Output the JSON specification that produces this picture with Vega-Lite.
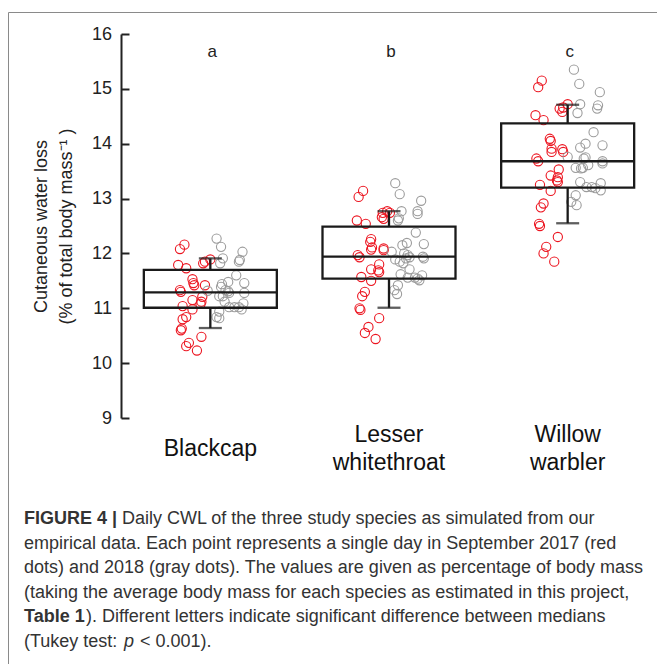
{
  "$schema": "https://vega.github.io/schema/vega-lite/v6.json",
  "width": 649,
  "height": 652,
  "autosize": {"type": "none"},
  "padding": {"left": 8, "top": 12, "right": 0, "bottom": 0},
  "background": "white",
  "config": {
    "font": "Liberation Sans",
    "view": {"stroke": "#8a8a8a", "strokeWidth": 1}
  },
  "datasets": {
    "pts": [
      {"species":"Blackcap","year":"2017","cwl":12.16,"jitter":-0.29},
      {"species":"Blackcap","year":"2017","cwl":12.08,"jitter":-0.34},
      {"species":"Blackcap","year":"2017","cwl":11.85,"jitter":-0.06},
      {"species":"Blackcap","year":"2017","cwl":11.82,"jitter":-0.08},
      {"species":"Blackcap","year":"2017","cwl":11.89,"jitter":0.0},
      {"species":"Blackcap","year":"2017","cwl":11.79,"jitter":-0.36},
      {"species":"Blackcap","year":"2017","cwl":11.73,"jitter":-0.27},
      {"species":"Blackcap","year":"2017","cwl":11.53,"jitter":-0.2},
      {"species":"Blackcap","year":"2017","cwl":11.46,"jitter":-0.19},
      {"species":"Blackcap","year":"2017","cwl":11.42,"jitter":-0.18},
      {"species":"Blackcap","year":"2017","cwl":11.42,"jitter":-0.06},
      {"species":"Blackcap","year":"2017","cwl":11.33,"jitter":-0.34},
      {"species":"Blackcap","year":"2017","cwl":11.3,"jitter":-0.33},
      {"species":"Blackcap","year":"2017","cwl":11.21,"jitter":-0.09},
      {"species":"Blackcap","year":"2017","cwl":11.12,"jitter":-0.1},
      {"species":"Blackcap","year":"2017","cwl":11.08,"jitter":-0.11},
      {"species":"Blackcap","year":"2017","cwl":11.15,"jitter":-0.2},
      {"species":"Blackcap","year":"2017","cwl":11.04,"jitter":-0.31},
      {"species":"Blackcap","year":"2017","cwl":10.98,"jitter":-0.2},
      {"species":"Blackcap","year":"2017","cwl":10.84,"jitter":-0.27},
      {"species":"Blackcap","year":"2017","cwl":10.8,"jitter":-0.31},
      {"species":"Blackcap","year":"2017","cwl":10.63,"jitter":-0.32},
      {"species":"Blackcap","year":"2017","cwl":10.6,"jitter":-0.33},
      {"species":"Blackcap","year":"2017","cwl":10.48,"jitter":-0.1},
      {"species":"Blackcap","year":"2017","cwl":10.37,"jitter":-0.24},
      {"species":"Blackcap","year":"2017","cwl":10.31,"jitter":-0.27},
      {"species":"Blackcap","year":"2017","cwl":10.23,"jitter":-0.15},
      {"species":"Blackcap","year":"2018","cwl":12.27,"jitter":0.07},
      {"species":"Blackcap","year":"2018","cwl":12.12,"jitter":0.12},
      {"species":"Blackcap","year":"2018","cwl":12.03,"jitter":0.36},
      {"species":"Blackcap","year":"2018","cwl":11.88,"jitter":0.33},
      {"species":"Blackcap","year":"2018","cwl":11.85,"jitter":0.32},
      {"species":"Blackcap","year":"2018","cwl":11.91,"jitter":0.14},
      {"species":"Blackcap","year":"2018","cwl":11.82,"jitter":0.11},
      {"species":"Blackcap","year":"2018","cwl":11.6,"jitter":0.29},
      {"species":"Blackcap","year":"2018","cwl":11.48,"jitter":0.2},
      {"species":"Blackcap","year":"2018","cwl":11.44,"jitter":0.13},
      {"species":"Blackcap","year":"2018","cwl":11.39,"jitter":0.12},
      {"species":"Blackcap","year":"2018","cwl":11.46,"jitter":0.38},
      {"species":"Blackcap","year":"2018","cwl":11.33,"jitter":0.17},
      {"species":"Blackcap","year":"2018","cwl":11.31,"jitter":0.2},
      {"species":"Blackcap","year":"2018","cwl":11.28,"jitter":0.21},
      {"species":"Blackcap","year":"2018","cwl":11.22,"jitter":0.1},
      {"species":"Blackcap","year":"2018","cwl":11.22,"jitter":0.14},
      {"species":"Blackcap","year":"2018","cwl":11.28,"jitter":0.38},
      {"species":"Blackcap","year":"2018","cwl":11.32,"jitter":-0.03},
      {"species":"Blackcap","year":"2018","cwl":11.12,"jitter":0.16},
      {"species":"Blackcap","year":"2018","cwl":11.02,"jitter":0.21},
      {"species":"Blackcap","year":"2018","cwl":11.02,"jitter":0.27},
      {"species":"Blackcap","year":"2018","cwl":11.02,"jitter":0.32},
      {"species":"Blackcap","year":"2018","cwl":10.98,"jitter":0.35},
      {"species":"Blackcap","year":"2018","cwl":11.09,"jitter":0.37},
      {"species":"Blackcap","year":"2018","cwl":10.94,"jitter":0.1},
      {"species":"Blackcap","year":"2018","cwl":10.84,"jitter":0.07},
      {"species":"Blackcap","year":"2018","cwl":10.82,"jitter":0.1},
      {"species":"Lesser whitethroat","year":"2017","cwl":13.14,"jitter":-0.29},
      {"species":"Lesser whitethroat","year":"2017","cwl":13.03,"jitter":-0.34},
      {"species":"Lesser whitethroat","year":"2017","cwl":12.74,"jitter":-0.07},
      {"species":"Lesser whitethroat","year":"2017","cwl":12.77,"jitter":-0.02},
      {"species":"Lesser whitethroat","year":"2017","cwl":12.74,"jitter":0.01},
      {"species":"Lesser whitethroat","year":"2017","cwl":12.66,"jitter":-0.08},
      {"species":"Lesser whitethroat","year":"2017","cwl":12.63,"jitter":-0.06},
      {"species":"Lesser whitethroat","year":"2017","cwl":12.6,"jitter":-0.36},
      {"species":"Lesser whitethroat","year":"2017","cwl":12.54,"jitter":-0.26},
      {"species":"Lesser whitethroat","year":"2017","cwl":12.26,"jitter":-0.2},
      {"species":"Lesser whitethroat","year":"2017","cwl":12.21,"jitter":-0.21},
      {"species":"Lesser whitethroat","year":"2017","cwl":12.11,"jitter":-0.19},
      {"species":"Lesser whitethroat","year":"2017","cwl":12.07,"jitter":-0.2},
      {"species":"Lesser whitethroat","year":"2017","cwl":12.09,"jitter":-0.06},
      {"species":"Lesser whitethroat","year":"2017","cwl":12.06,"jitter":-0.06},
      {"species":"Lesser whitethroat","year":"2017","cwl":11.97,"jitter":-0.35},
      {"species":"Lesser whitethroat","year":"2017","cwl":11.93,"jitter":-0.33},
      {"species":"Lesser whitethroat","year":"2017","cwl":11.8,"jitter":-0.11},
      {"species":"Lesser whitethroat","year":"2017","cwl":11.71,"jitter":-0.2},
      {"species":"Lesser whitethroat","year":"2017","cwl":11.69,"jitter":-0.12},
      {"species":"Lesser whitethroat","year":"2017","cwl":11.66,"jitter":-0.11},
      {"species":"Lesser whitethroat","year":"2017","cwl":11.57,"jitter":-0.31},
      {"species":"Lesser whitethroat","year":"2017","cwl":11.5,"jitter":-0.2},
      {"species":"Lesser whitethroat","year":"2017","cwl":11.3,"jitter":-0.27},
      {"species":"Lesser whitethroat","year":"2017","cwl":11.22,"jitter":-0.3},
      {"species":"Lesser whitethroat","year":"2017","cwl":11.0,"jitter":-0.33},
      {"species":"Lesser whitethroat","year":"2017","cwl":10.97,"jitter":-0.32},
      {"species":"Lesser whitethroat","year":"2017","cwl":10.82,"jitter":-0.11},
      {"species":"Lesser whitethroat","year":"2017","cwl":10.66,"jitter":-0.23},
      {"species":"Lesser whitethroat","year":"2017","cwl":10.55,"jitter":-0.27},
      {"species":"Lesser whitethroat","year":"2017","cwl":10.44,"jitter":-0.15},
      {"species":"Lesser whitethroat","year":"2018","cwl":13.28,"jitter":0.07},
      {"species":"Lesser whitethroat","year":"2018","cwl":13.08,"jitter":0.12},
      {"species":"Lesser whitethroat","year":"2018","cwl":12.96,"jitter":0.36},
      {"species":"Lesser whitethroat","year":"2018","cwl":12.77,"jitter":0.14},
      {"species":"Lesser whitethroat","year":"2018","cwl":12.77,"jitter":0.32},
      {"species":"Lesser whitethroat","year":"2018","cwl":12.72,"jitter":0.32},
      {"species":"Lesser whitethroat","year":"2018","cwl":12.64,"jitter":0.11},
      {"species":"Lesser whitethroat","year":"2018","cwl":12.6,"jitter":0.1},
      {"species":"Lesser whitethroat","year":"2018","cwl":12.38,"jitter":0.3},
      {"species":"Lesser whitethroat","year":"2018","cwl":12.19,"jitter":0.2},
      {"species":"Lesser whitethroat","year":"2018","cwl":12.15,"jitter":0.15},
      {"species":"Lesser whitethroat","year":"2018","cwl":12.17,"jitter":0.39},
      {"species":"Lesser whitethroat","year":"2018","cwl":12.03,"jitter":0.03},
      {"species":"Lesser whitethroat","year":"2018","cwl":12.0,"jitter":0.17},
      {"species":"Lesser whitethroat","year":"2018","cwl":11.97,"jitter":0.21},
      {"species":"Lesser whitethroat","year":"2018","cwl":11.93,"jitter":0.23},
      {"species":"Lesser whitethroat","year":"2018","cwl":11.91,"jitter":0.19},
      {"species":"Lesser whitethroat","year":"2018","cwl":11.94,"jitter":0.38},
      {"species":"Lesser whitethroat","year":"2018","cwl":11.91,"jitter":0.39},
      {"species":"Lesser whitethroat","year":"2018","cwl":11.89,"jitter":0.07},
      {"species":"Lesser whitethroat","year":"2018","cwl":11.85,"jitter":0.12},
      {"species":"Lesser whitethroat","year":"2018","cwl":11.82,"jitter":0.16},
      {"species":"Lesser whitethroat","year":"2018","cwl":11.71,"jitter":0.23},
      {"species":"Lesser whitethroat","year":"2018","cwl":11.62,"jitter":0.13},
      {"species":"Lesser whitethroat","year":"2018","cwl":11.56,"jitter":0.21},
      {"species":"Lesser whitethroat","year":"2018","cwl":11.56,"jitter":0.29},
      {"species":"Lesser whitethroat","year":"2018","cwl":11.54,"jitter":0.32},
      {"species":"Lesser whitethroat","year":"2018","cwl":11.6,"jitter":0.37},
      {"species":"Lesser whitethroat","year":"2018","cwl":11.51,"jitter":0.34},
      {"species":"Lesser whitethroat","year":"2018","cwl":11.42,"jitter":0.1},
      {"species":"Lesser whitethroat","year":"2018","cwl":11.33,"jitter":0.06},
      {"species":"Lesser whitethroat","year":"2018","cwl":11.26,"jitter":0.09},
      {"species":"Willow warbler","year":"2017","cwl":15.15,"jitter":-0.29},
      {"species":"Willow warbler","year":"2017","cwl":15.03,"jitter":-0.33},
      {"species":"Willow warbler","year":"2017","cwl":14.72,"jitter":0.0},
      {"species":"Willow warbler","year":"2017","cwl":14.66,"jitter":-0.05},
      {"species":"Willow warbler","year":"2017","cwl":14.58,"jitter":-0.06},
      {"species":"Willow warbler","year":"2017","cwl":14.64,"jitter":-0.09},
      {"species":"Willow warbler","year":"2017","cwl":14.52,"jitter":-0.36},
      {"species":"Willow warbler","year":"2017","cwl":14.43,"jitter":-0.27},
      {"species":"Willow warbler","year":"2017","cwl":14.09,"jitter":-0.2},
      {"species":"Willow warbler","year":"2017","cwl":14.05,"jitter":-0.19},
      {"species":"Willow warbler","year":"2017","cwl":13.91,"jitter":-0.18},
      {"species":"Willow warbler","year":"2017","cwl":13.85,"jitter":-0.18},
      {"species":"Willow warbler","year":"2017","cwl":13.9,"jitter":-0.06},
      {"species":"Willow warbler","year":"2017","cwl":13.85,"jitter":-0.05},
      {"species":"Willow warbler","year":"2017","cwl":13.73,"jitter":-0.35},
      {"species":"Willow warbler","year":"2017","cwl":13.68,"jitter":-0.33},
      {"species":"Willow warbler","year":"2017","cwl":13.53,"jitter":-0.1},
      {"species":"Willow warbler","year":"2017","cwl":13.42,"jitter":-0.19},
      {"species":"Willow warbler","year":"2017","cwl":13.39,"jitter":-0.11},
      {"species":"Willow warbler","year":"2017","cwl":13.33,"jitter":-0.12},
      {"species":"Willow warbler","year":"2017","cwl":13.3,"jitter":-0.11},
      {"species":"Willow warbler","year":"2017","cwl":13.25,"jitter":-0.31},
      {"species":"Willow warbler","year":"2017","cwl":13.14,"jitter":-0.19},
      {"species":"Willow warbler","year":"2017","cwl":12.91,"jitter":-0.27},
      {"species":"Willow warbler","year":"2017","cwl":12.84,"jitter":-0.3},
      {"species":"Willow warbler","year":"2017","cwl":12.54,"jitter":-0.32},
      {"species":"Willow warbler","year":"2017","cwl":12.5,"jitter":-0.31},
      {"species":"Willow warbler","year":"2017","cwl":12.3,"jitter":-0.11},
      {"species":"Willow warbler","year":"2017","cwl":12.12,"jitter":-0.24},
      {"species":"Willow warbler","year":"2017","cwl":12.0,"jitter":-0.27},
      {"species":"Willow warbler","year":"2017","cwl":11.85,"jitter":-0.15},
      {"species":"Willow warbler","year":"2018","cwl":15.35,"jitter":0.07},
      {"species":"Willow warbler","year":"2018","cwl":15.09,"jitter":0.13},
      {"species":"Willow warbler","year":"2018","cwl":14.94,"jitter":0.36},
      {"species":"Willow warbler","year":"2018","cwl":14.72,"jitter":0.14},
      {"species":"Willow warbler","year":"2018","cwl":14.7,"jitter":0.34},
      {"species":"Willow warbler","year":"2018","cwl":14.64,"jitter":0.33},
      {"species":"Willow warbler","year":"2018","cwl":14.56,"jitter":0.11},
      {"species":"Willow warbler","year":"2018","cwl":14.21,"jitter":0.29},
      {"species":"Willow warbler","year":"2018","cwl":14.0,"jitter":0.2},
      {"species":"Willow warbler","year":"2018","cwl":13.93,"jitter":0.14},
      {"species":"Willow warbler","year":"2018","cwl":13.97,"jitter":0.39},
      {"species":"Willow warbler","year":"2018","cwl":13.76,"jitter":0.0},
      {"species":"Willow warbler","year":"2018","cwl":13.73,"jitter":0.18},
      {"species":"Willow warbler","year":"2018","cwl":13.75,"jitter":0.2},
      {"species":"Willow warbler","year":"2018","cwl":13.61,"jitter":0.23},
      {"species":"Willow warbler","year":"2018","cwl":13.56,"jitter":0.17},
      {"species":"Willow warbler","year":"2018","cwl":13.55,"jitter":0.15},
      {"species":"Willow warbler","year":"2018","cwl":13.68,"jitter":0.39},
      {"species":"Willow warbler","year":"2018","cwl":13.64,"jitter":0.39},
      {"species":"Willow warbler","year":"2018","cwl":13.56,"jitter":0.09},
      {"species":"Willow warbler","year":"2018","cwl":13.3,"jitter":0.14},
      {"species":"Willow warbler","year":"2018","cwl":13.21,"jitter":0.21},
      {"species":"Willow warbler","year":"2018","cwl":13.21,"jitter":0.27},
      {"species":"Willow warbler","year":"2018","cwl":13.19,"jitter":0.31},
      {"species":"Willow warbler","year":"2018","cwl":13.28,"jitter":0.37},
      {"species":"Willow warbler","year":"2018","cwl":13.15,"jitter":0.37},
      {"species":"Willow warbler","year":"2018","cwl":13.06,"jitter":0.09},
      {"species":"Willow warbler","year":"2018","cwl":12.94,"jitter":0.04},
      {"species":"Willow warbler","year":"2018","cwl":12.88,"jitter":0.1}
    ],
    "box": [
      {"species":"Blackcap","lower":10.64,"q1":11.01,"median":11.29,"q3":11.7,"upper":11.91,"letter":"a"},
      {"species":"Lesser whitethroat","lower":11.01,"q1":11.54,"median":11.94,"q3":12.49,"upper":12.77,"letter":"b"},
      {"species":"Willow warbler","lower":12.55,"q1":13.2,"median":13.68,"q3":14.37,"upper":14.71,"letter":"c"}
    ],
    "caption": [
      {"line":1,"seg":"label","text":"FIGURE 4 |"},
      {"line":1,"seg":"body","text":"Daily CWL of the three study species as simulated from our"},
      {"line":2,"seg":"body","text":"empirical data. Each point represents a single day in September 2017 (red"},
      {"line":3,"seg":"body","text":"dots) and 2018 (gray dots). The values are given as percentage of body mass"},
      {"line":4,"seg":"body","text":"(taking the average body mass for each species as estimated in this project,"},
      {"line":5,"seg":"label","text":"Table 1"},
      {"line":5,"seg":"body","text":"). Different letters indicate significant difference between medians"},
      {"line":6,"seg":"body","text":"(Tukey test:"},
      {"line":6,"seg":"var","text":"p"},
      {"line":6,"seg":"tail","text":"< 0.001)."}
    ]
  },
  "layer": [
    {
      "encoding": {
        "x": {
          "field": "species",
          "type": "nominal",
          "sort": ["Blackcap", "Lesser whitethroat", "Willow warbler"],
          "scale": {"type": "band", "domain": ["Blackcap", "Lesser whitethroat", "Willow warbler"], "range": [113, 649], "paddingInner": 0, "paddingOuter": 0},
          "axis": {
            "orient": "bottom",
            "offset": -246,
            "domain": false,
            "ticks": false,
            "grid": false,
            "title": null,
            "labelAngle": 0,
            "labelPadding": 30,
            "labelBaseline": {"condition": {"test": "datum.value == 'Blackcap'", "value": "middle"}, "value": "line-bottom"},
            "labelFontSize": 23,
            "labelLineHeight": 28,
            "labelColor": "#111111",
            "labelExpr": "split(datum.label, ' ')"
          }
        },
        "y": {
          "type": "quantitative",
          "scale": {"domain": [9, 16], "range": [406, 22], "nice": false, "zero": false}
        }
      },
      "layer": [
        {
          "data": {"name": "pts"},
          "mark": {"type": "point", "shape": "circle", "filled": false, "size": 85, "strokeWidth": 1.1, "opacity": 1},
          "encoding": {
            "y": {
              "field": "cwl",
              "type": "quantitative",
              "axis": {
                "orient": "left",
                "offset": -113,
                "values": [9, 10, 11, 12, 13, 14, 15, 16],
                "format": "d",
                "grid": false,
                "domainColor": "#222222",
                "domainWidth": 2,
                "tickColor": "#222222",
                "tickWidth": 2,
                "tickSize": -8,
                "labelFontSize": 18,
                "labelColor": "#222222",
                "labelPadding": 17.5,
                "title": ["Cutaneous water loss", "(% of total body mass⁻¹ )"],
                "titleFontSize": 18,
                "titleFontWeight": "normal",
                "titleColor": "#222222",
                "titleLineHeight": 25,
                "titlePadding": 16
              }
            },
            "xOffset": {"field": "jitter", "type": "quantitative", "scale": {"domain": [-1, 1]}},
            "color": {"field": "year", "type": "nominal", "scale": {"domain": ["2017", "2018"], "range": ["#ec1520", "#9c9c9c"]}, "legend": null}
          }
        },
        {
          "data": {"name": "box"},
          "mark": {"type": "bar", "fill": "transparent", "stroke": "#1a1a1a", "strokeWidth": 2.3, "width": 133},
          "encoding": {"y": {"field": "q1", "type": "quantitative"}, "y2": {"field": "q3"}}
        },
        {
          "data": {"name": "box"},
          "mark": {"type": "bar", "fill": "transparent", "stroke": "#1a1a1a", "strokeWidth": 2.3, "width": 133},
          "encoding": {"y": {"field": "median", "type": "quantitative"}, "y2": {"field": "median"}}
        },
        {
          "data": {"name": "box"},
          "mark": {"type": "rule", "color": "#1a1a1a", "strokeWidth": 2.3},
          "encoding": {"y": {"field": "q3", "type": "quantitative"}, "y2": {"field": "upper"}}
        },
        {
          "data": {"name": "box"},
          "mark": {"type": "rule", "color": "#1a1a1a", "strokeWidth": 2.3},
          "encoding": {"y": {"field": "lower", "type": "quantitative"}, "y2": {"field": "q1"}}
        },
        {
          "data": {"name": "box"},
          "mark": {"type": "tick", "color": "#1a1a1a", "size": 23, "thickness": 2.3},
          "encoding": {"y": {"field": "upper", "type": "quantitative"}}
        },
        {
          "data": {"name": "box"},
          "mark": {"type": "tick", "color": "#1a1a1a", "size": 23, "thickness": 2.3},
          "encoding": {"y": {"field": "lower", "type": "quantitative"}}
        },
        {
          "data": {"name": "box"},
          "mark": {"type": "text", "fontSize": 17, "color": "#222222", "baseline": "middle", "dx": 2},
          "encoding": {"y": {"datum": 15.67, "type": "quantitative"}, "text": {"field": "letter"}}
        }
      ]
    },
    {
      "data": {"name": "caption"},
      "encoding": {
        "x": {"datum": 0, "type": "quantitative", "scale": {"domain": [0, 1], "range": [16, 649]}, "axis": null},
        "y": {"field": "line", "type": "quantitative", "scale": {"domain": [1, 6], "range": [507, 629.5]}, "axis": null},
        "text": {"field": "text"}
      },
      "layer": [
        {
          "transform": [{"filter": "datum.seg == 'label'"}],
          "mark": {"type": "text", "align": "left", "baseline": "middle", "fontSize": 18, "fontWeight": "bold", "color": "#333333"}
        },
        {
          "transform": [{"filter": "datum.seg == 'body' && datum.line == 1"}],
          "mark": {"type": "text", "align": "left", "baseline": "middle", "fontSize": 18, "color": "#333333", "dx": 98}
        },
        {
          "transform": [{"filter": "datum.seg == 'body' && datum.line == 5"}],
          "mark": {"type": "text", "align": "left", "baseline": "middle", "fontSize": 18, "color": "#333333", "dx": 62}
        },
        {
          "transform": [{"filter": "datum.seg == 'body' && datum.line != 1 && datum.line != 5"}],
          "mark": {"type": "text", "align": "left", "baseline": "middle", "fontSize": 18, "color": "#333333"}
        },
        {
          "transform": [{"filter": "datum.seg == 'var'"}],
          "mark": {"type": "text", "align": "left", "baseline": "middle", "fontSize": 18, "fontStyle": "italic", "color": "#333333", "dx": 100}
        },
        {
          "transform": [{"filter": "datum.seg == 'tail'"}],
          "mark": {"type": "text", "align": "left", "baseline": "middle", "fontSize": 18, "color": "#333333", "dx": 116}
        }
      ]
    }
  ],
  "resolve": {"scale": {"x": "independent", "y": "independent"}}
}
